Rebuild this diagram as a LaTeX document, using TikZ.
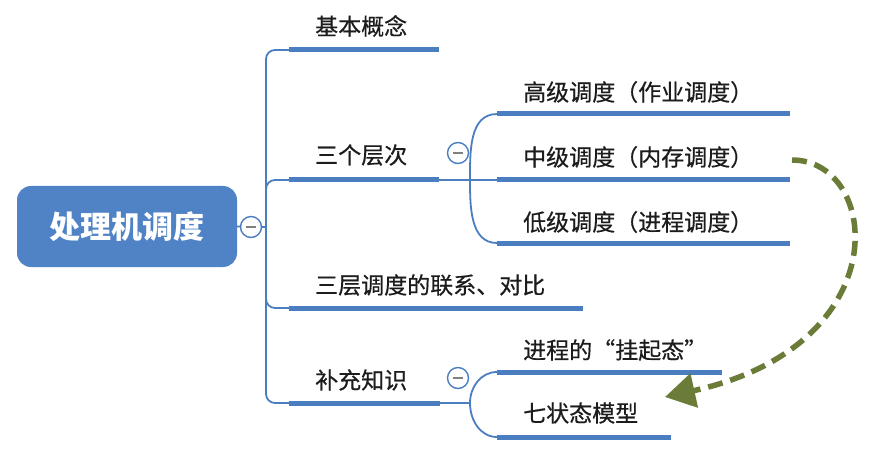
\documentclass[tikz,border=0pt]{standalone}
\usepackage{fontspec}
\setmainfont{Noto Sans CJK SC}
\newfontfamily\cjkb[FakeBold=0.5]{Noto Sans CJK SC}
\usetikzlibrary{arrows.meta,backgrounds}
\definecolor{mblue}{RGB}{74,126,193}
\definecolor{rootblue}{RGB}{80,130,198}
\definecolor{txt}{RGB}{28,28,28}
\definecolor{olive}{RGB}{107,124,56}
\begin{document}
\begin{tikzpicture}[x=1pt,y=-1pt,
  lbl/.style={anchor=west, inner sep=0pt, text=txt, font=\cjkb\fontsize{23}{26}\selectfont},
  uline/.style={draw=mblue, line width=5pt},
  thinline/.style={draw=mblue, line width=1.8pt},
  fold/.style={circle, draw=mblue, line width=1.4pt, fill=white, minimum size=21pt, inner sep=0pt,
    path picture={\draw[gray, line width=2pt] ([xshift=-5pt]path picture bounding box.center) -- ([xshift=5pt]path picture bounding box.center);}},
  rootbox/.style={rectangle, rounded corners=14pt, fill=rootblue, text=white, minimum width=220pt, minimum height=81pt, inner sep=0pt, font=\fontsize{31}{34}\selectfont\bfseries},
  greenarrow/.style={draw=olive, line width=5.5pt, dash pattern=on 15pt off 8pt, -{Triangle[length=30pt,width=34pt]}}
]
\useasboundingbox (0,0) rectangle (874,454);

% root and fold markers
\node[rootbox] (root) at (127,226.5) {处理机调度};
\node[fold] (c0) at (251,227) {};
\node[fold] (c1) at (458,153) {};
\node[fold] (c2) at (458,378) {};

% texts
\node[lbl] (t1) at (315,26) {基本概念};
\node[lbl] (t2) at (315,155) {三个层次};
\node[lbl] (t3) at (315,285) {三层调度的联系、对比};
\node[lbl] (t4) at (315,380) {补充知识};
\node[lbl] (u1) at (523,92) {高级调度（作业调度）};
\node[lbl] (u2) at (523,157) {中级调度（内存调度）};
\node[lbl] (u3) at (523,222) {低级调度（进程调度）};
\node[lbl] (u4) at (523,350) {进程的“挂起态”};
\node[lbl] (u5) at (523,413) {七状态模型};

% coordinates
\coordinate (tr) at (266,227);
\coordinate (b1s) at (289,50);  \coordinate (b1e) at (439,50);
\coordinate (b2s) at (289,180); \coordinate (b2e) at (439,180);
\coordinate (b3s) at (289,308); \coordinate (b3e) at (583,308);
\coordinate (b4s) at (289,403); \coordinate (b4e) at (440,403);
\coordinate (j1) at (470,180);
\coordinate (j2) at (470,403);
\coordinate (s1s) at (497,114); \coordinate (s1e) at (790,114);
\coordinate (s2s) at (497,180); \coordinate (s2e) at (790,180);
\coordinate (s3s) at (497,243); \coordinate (s3e) at (790,243);
\coordinate (s4s) at (497,372); \coordinate (s4e) at (722,372);
\coordinate (s5s) at (497,437); \coordinate (s5e) at (671,437);
\coordinate (ga) at (792,160);
\coordinate (gb) at (665,397);

\begin{scope}[on background layer]
  \fill[white] (0,0) rectangle (874,454);
  \draw[thinline] (root.east) -- (c0) -- (tr);
  \draw[thinline, rounded corners=9pt] (b1s) -| (tr) |- (b4s);
  \draw[thinline, rounded corners=9pt] (tr) |- (b2s);
  \draw[thinline, rounded corners=9pt] (tr) |- (b3s);
  \draw[thinline] (b2e) -- (j1);
  \draw[thinline] (j1) to[out=90,in=180] (s1s);
  \draw[thinline] (j1) -- (s2s);
  \draw[thinline] (j1) to[out=-90,in=180] (s3s);
  \draw[thinline] (b4e) -- (j2);
  \draw[thinline] (j2) to[out=90,in=180] (s4s);
  \draw[thinline] (j2) to[out=-90,in=180] (s5s);
\end{scope}

\draw[uline] (b1s) -- (b1e);
\draw[uline] (b2s) -- (b2e);
\draw[uline] (b3s) -- (b3e);
\draw[uline] (b4s) -- (b4e);
\draw[uline] (s1s) -- (s1e);
\draw[uline] (s2s) -- (s2e);
\draw[uline] (s3s) -- (s3e);
\draw[uline] (s4s) -- (s4e);
\draw[uline] (s5s) -- (s5e);

\draw[greenarrow] (ga) .. controls (880,160) and (900,345) .. (gb);
\end{tikzpicture}
\end{document}
